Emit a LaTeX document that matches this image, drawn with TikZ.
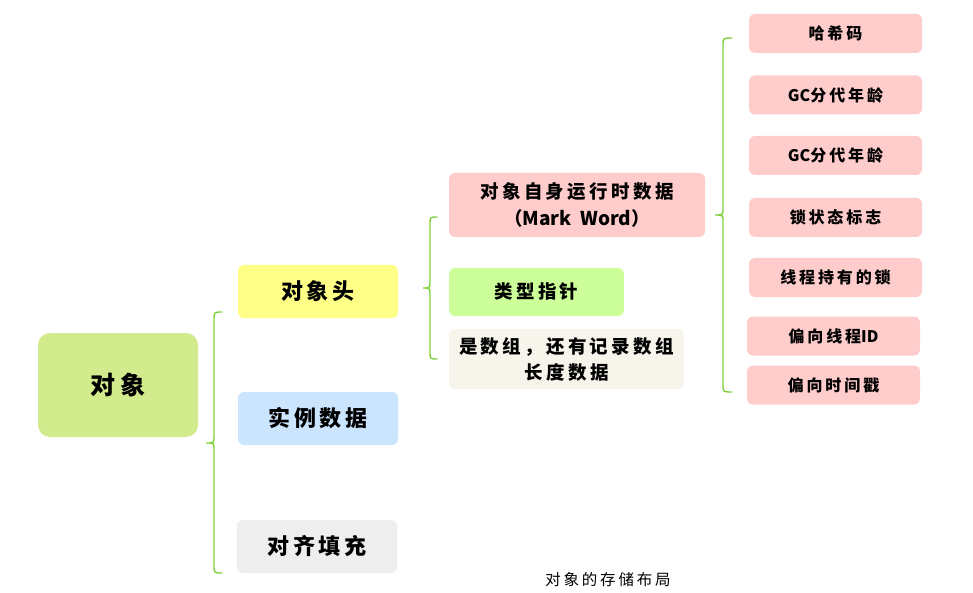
\documentclass[tikz,border=0pt]{standalone}
\usepackage{fontspec}
\setmainfont{Noto Sans CJK SC}[LetterSpace=18]
\newfontfamily\latn{Noto Sans CJK SC}
\begin{document}
\begin{tikzpicture}[x=1pt,y=-1pt,
  box/.style={rounded corners=6pt, inner sep=0pt, align=center, font=\bfseries},
  brace/.style={draw=braceg, line width=1.4pt, line cap=round}]
\definecolor{braceg}{HTML}{7FD13B}
\definecolor{cRoot}{HTML}{D2EB8C}
\definecolor{cHead}{HTML}{FFFF88}
\definecolor{cInst}{HTML}{CCE5FF}
\definecolor{cPad}{HTML}{EEEEEE}
\definecolor{cPink}{HTML}{FFCCCC}
\definecolor{cPtr}{HTML}{CCFF99}
\definecolor{cArr}{HTML}{F7F4EC}
\useasboundingbox (0,0) rectangle (973,593);
% root
\node[box, fill=cRoot, rounded corners=12pt, minimum width=160pt, minimum height=104pt, font=\fontsize{25}{30}\selectfont\bfseries] (root) at (118,385) {对象};
% level 1
\node[box, fill=cHead, minimum width=160pt, minimum height=53pt, font=\fontsize{22}{26}\selectfont\bfseries] (head) at (318,291.5) {对象头};
\node[box, fill=cInst, minimum width=160pt, minimum height=53pt, font=\fontsize{22}{26}\selectfont\bfseries] (inst) at (318,418.5) {实例数据};
\node[box, fill=cPad, minimum width=160pt, minimum height=53pt, font=\fontsize{22}{26}\selectfont\bfseries] (pad) at (317,546.5) {对齐填充};
% level 2
\node[box, fill=cPink, minimum width=256pt, minimum height=64pt, font=\fontsize{18.5}{27}\selectfont\bfseries] (mark) at (577,205) {对象自身运行时数据\\（{\latn\bfseries\fontsize{19}{27}\selectfont Mark~ Word}）};
\node[box, fill=cPtr, minimum width=175pt, minimum height=48pt, font=\fontsize{18.5}{22}\selectfont\bfseries] (ptr) at (536.5,292) {类型指针};
\node[box, fill=cArr, minimum width=235pt, minimum height=60pt, font=\fontsize{18.5}{26}\selectfont\bfseries] (arr) at (566.5,359) {是数组，还有记录数组\\长度数据};
% level 3
\tikzset{leaf/.style={box, fill=cPink, minimum width=173pt, minimum height=39pt, font=\fontsize{16}{20}\selectfont\bfseries}}
\node[leaf] (l1) at (835.5,33.5) {哈希码};
\node[leaf] (l2) at (835.5,95) {{\latn GC}分代年龄};
\node[leaf] (l3) at (835.5,155.5) {{\latn GC}分代年龄};
\node[leaf] (l4) at (835.5,217.5) {锁状态标志};
\node[leaf] (l5) at (835.5,277.5) {线程持有的锁};
\node[leaf] (l6) at (833.5,336) {偏向线程{\latn ID}};
\node[leaf] (l7) at (833.5,385) {偏向时间戳};
% caption
\node[font=\fontsize{15.5}{18}\selectfont] (cap) at (608,580) {对象的存储布局};
% braces
\newcommand{\mybrace}[6]{% tipx, vx, endx, top, tip, bottom
  \draw[brace] (#3,#4) .. controls (#2,#4) .. (#2,#4+8) -- (#2,#5-7) .. controls (#2,#5) .. (#1,#5)
    .. controls (#2,#5) .. (#2,#5+7) -- (#2,#6-8) .. controls (#2,#6) .. (#3,#6);}
\mybrace{206}{214}{222}{312}{443}{573}
\mybrace{423}{430}{437}{217}{288}{359}
\mybrace{715}{723}{732}{38}{215}{392}
\end{tikzpicture}
\end{document}
